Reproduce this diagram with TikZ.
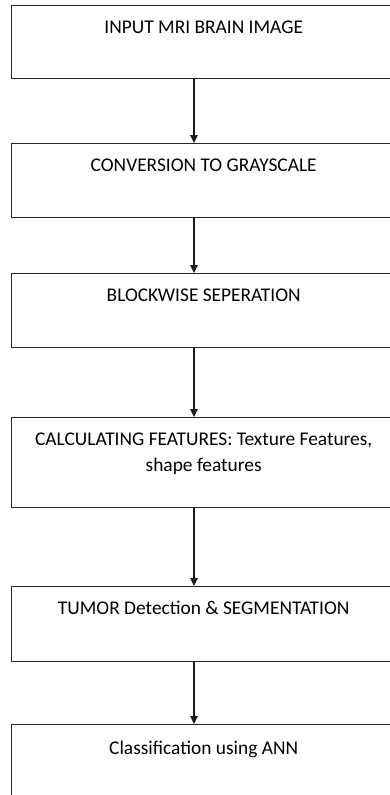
\documentclass[tikz,border=0pt]{standalone}
\usepackage{fontspec}
\setmainfont{Carlito}
\usepackage{tikz}
\usetikzlibrary{arrows.meta}
\tikzset{
  blk/.style={draw=black!85, line width=1.4pt, anchor=north west, minimum width=384pt, inner sep=0pt, text height=28pt, font=\fontsize{19.4}{26}\selectfont, text=black, align=center},
  flw/.style={draw=black!90, line width=1.2pt, -{Triangle[length=8pt,width=7.5pt]}}
}
\begin{document}
\begin{tikzpicture}[x=1pt, y=-1pt]
\useasboundingbox (0,0) rectangle (390,795);
\clip (0,0) rectangle (390,795);
\fill[white] (0,0) rectangle (390,795);
\node[blk, text depth=45pt] (b1) at (11,5) {INPUT MRI BRAIN IMAGE};
\node[blk, text depth=46pt] (b2) at (11,143) {CONVERSION TO GRAYSCALE};
\node[blk, text depth=46pt] (b3) at (11,273) {BLOCKWISE SEPERATION};
\node[blk, text height=54pt, text depth=36pt] (b4) at (11,417) {CALCULATING FEATURES: Texture Features,\\shape features};
\node[blk, text depth=47pt] (b5) at (11,586) {TUMOR Detection \& SEGMENTATION};
\node[blk, text height=30pt, text depth=60pt] (b6) at (11,724) {Classification using ANN};
% connectors
\coordinate (ax) at (194,0);
\draw[flw] (b1.south -| ax) -- (b2.north -| ax);
\draw[flw] (b2.south -| ax) -- (b3.north -| ax);
\draw[flw] (b3.south -| ax) -- (b4.north -| ax);
\draw[flw] (b4.south -| ax) -- (b5.north -| ax);
\draw[flw] (b5.south -| ax) -- (b6.north -| ax);
\end{tikzpicture}
\end{document}
